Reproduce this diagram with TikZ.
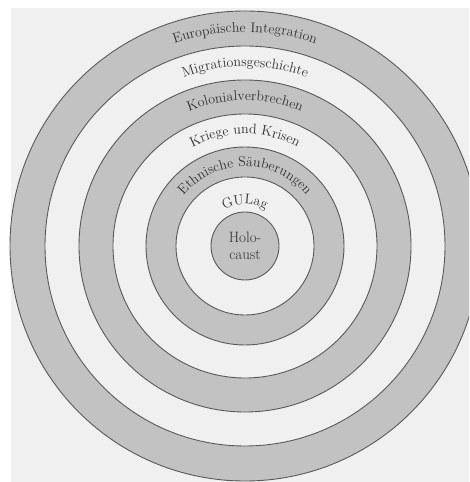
\documentclass[tikz,border=0pt]{standalone}
\usetikzlibrary{decorations.text}
\begin{document}
\begin{tikzpicture}[x=1pt,y=1pt,
  ring/.style={draw=black!65, line width=0.9pt},
  grayring/.style={ring, fill=black!24},
  whitering/.style={ring, fill=black!6},
  arclabel/.style={decorate, decoration={text along path, text align=center}},
  labelfont/.style={font=\fontsize{15}{17}\selectfont, text=black!80}
]
\useasboundingbox (0,0) rectangle (469,482);
\fill[white] (0,0) rectangle (469,482);
\fill[black!6] (11,0) rectangle (469,474);
\begin{scope}
\clip (0,0) rectangle (469,482);
\coordinate (C) at (245,236);
\draw[grayring]  (C) circle[radius=235];
\draw[whitering] (C) circle[radius=200];
\draw[grayring]  (C) circle[radius=166];
\draw[whitering] (C) circle[radius=132];
\draw[grayring]  (C) circle[radius=99];
\draw[whitering] (C) circle[radius=69];
\draw[grayring]  (C) circle[radius=34];
\end{scope}
\path[arclabel, decoration={text={|\fontsize{14}{16}\selectfont\color{black!80}|Europäische Integration}}]
  ([shift={(180:214)}]C) arc[start angle=180, end angle=0, radius=214];
\path[arclabel, decoration={text={|\fontsize{14}{16}\selectfont\color{black!80}|Migrationsgeschichte}}]
  ([shift={(180:179.5)}]C) arc[start angle=180, end angle=0, radius=179.5];
\path[arclabel, decoration={text={|\fontsize{14}{16}\selectfont\color{black!80}|Kolonialverbrechen}}]
  ([shift={(180:145.5)}]C) arc[start angle=180, end angle=0, radius=145.5];
\path[arclabel, decoration={text={|\fontsize{14}{16}\selectfont\color{black!80}|Kriege und Krisen}}]
  ([shift={(180:112)}]C) arc[start angle=180, end angle=0, radius=112];
\path[arclabel, decoration={text={|\fontsize{14}{16}\selectfont\color{black!80}|Ethnische Säuberungen}}]
  ([shift={(180:79.5)}]C) arc[start angle=180, end angle=0, radius=79.5];
\path[arclabel, decoration={text={|\fontsize{14}{16}\selectfont\color{black!80}|GULag}}]
  ([shift={(180:42)}]C) arc[start angle=180, end angle=0, radius=42];
\node[labelfont, align=center, inner sep=0pt] (holocaust) at (C) {Holo-\\caust};
\end{tikzpicture}
\end{document}
